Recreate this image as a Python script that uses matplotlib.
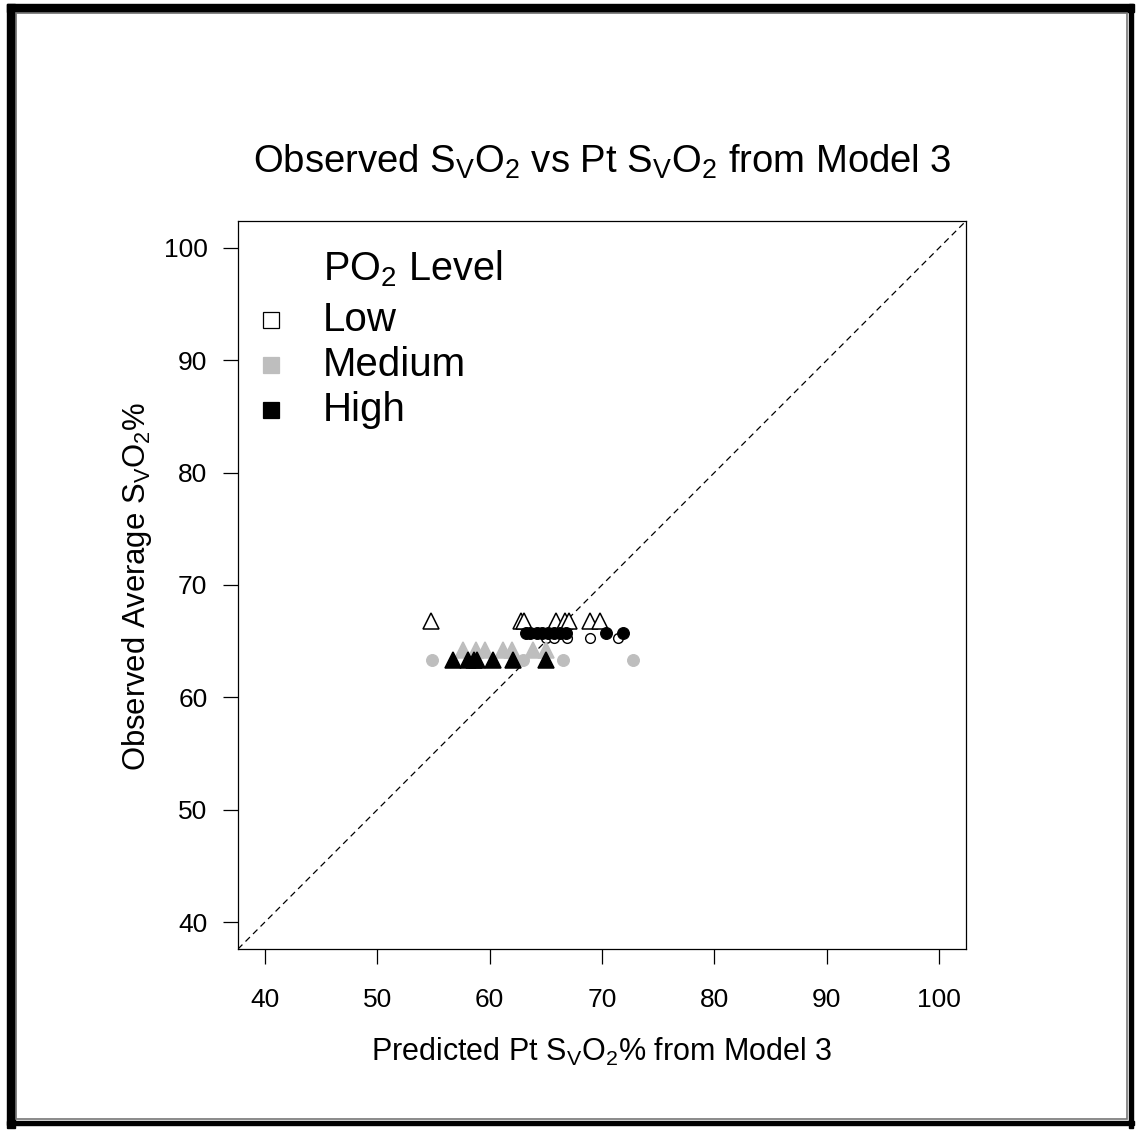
import matplotlib
matplotlib.use("Agg")
import matplotlib.pyplot as plt
from matplotlib.patches import Rectangle

plt.rcParams['font.family'] = ['Liberation Sans', 'DejaVu Sans']
plt.rcParams['mathtext.fontset'] = 'custom'
plt.rcParams['mathtext.rm'] = 'Liberation Sans'
plt.rcParams['mathtext.it'] = 'Liberation Sans'
plt.rcParams['mathtext.default'] = 'regular'

# data (predicted x, observed y)
low_tri_x = [54.8, 62.8, 63.1, 65.9, 66.7, 67.1, 68.9, 69.8]
low_tri_y = [66.8, 66.8, 66.8, 66.8, 66.8, 66.8, 66.8, 66.8]
low_circ_x = [65.0, 65.7, 66.9, 68.9, 71.4]
low_circ_y = [65.3, 65.3, 65.3, 65.3, 65.3]
med_tri_x = [57.6, 58.8, 59.6, 61.2, 62.0, 63.9, 65.0]
med_tri_y = [64.2, 64.2, 64.2, 64.2, 64.2, 64.2, 64.2]
med_circ_x = [54.9, 63.0, 66.5, 72.8]
med_circ_y = [63.3, 63.3, 63.3, 63.3]
high_tri_x = [56.7, 58.1, 58.6, 58.9, 60.3, 62.1, 65.0]
high_tri_y = [63.3, 63.3, 63.3, 63.3, 63.3, 63.3, 63.3]
high_circ_x = [63.2, 63.6, 64.2, 64.7, 65.2, 65.7, 66.3, 66.8, 70.4, 71.9]
high_circ_y = [65.7, 65.7, 65.7, 65.7, 65.7, 65.7, 65.7, 65.7, 65.7, 65.7]

levels = ['Low', 'Medium', 'High']
ticks = [40, 50, 60, 70, 80, 90, 100]
gray = '#BEBEBE'

W, H = 1137, 1130
fig = plt.figure(figsize=(W / 100, H / 100), dpi=100)
ax = fig.add_axes([238 / W, 1 - 949 / H, 728 / W, 728 / H])

lim = (37.6, 102.4)
ax.plot(lim, lim, color='black', ls=(0, (5, 3.5)), lw=0.9)

tri = dict(marker='^', ms=11.5, ls='none', mew=1.1)
circ = dict(marker='o', ms=7, ls='none', mew=1.0)
dot = dict(marker='o', ms=8.5, ls='none', mew=0.8)
ax.plot(low_tri_x, low_tri_y, mfc='white', mec='black', **tri)
ax.plot(low_circ_x, low_circ_y, mfc='white', mec='black', **circ)
ax.plot(med_tri_x, med_tri_y, mfc=gray, mec=gray, **tri)
ax.plot(med_circ_x, med_circ_y, mfc=gray, mec=gray, **dot)
ax.plot(high_tri_x, high_tri_y, mfc='black', mec='black', **tri)
ax.plot(high_circ_x, high_circ_y, mfc='black', mec='black', **dot)

ax.set_xlim(lim)
ax.set_ylim(lim)
ax.set_xticks(ticks)
ax.set_yticks(ticks)
for s in ax.spines.values():
    s.set_linewidth(0.9)
ax.tick_params(axis='x', length=11, width=0.9, pad=17, labelsize=19)
ax.tick_params(axis='y', length=11, width=0.9, pad=11, labelsize=19)

# legend (R-style, no frame)
ax.text(0.117, 0.934, 'PO$_2$ Level', transform=ax.transAxes, fontsize=28.5,
        va='center', ha='left')
leg_y = [0.864, 0.802, 0.741]
leg_fc = ['white', gray, 'black']
leg_ec = ['black', gray, 'black']
for lab, yy, fc, ec in zip(levels, leg_y, leg_fc, leg_ec):
    ax.plot([0.045], [yy], marker='s', ms=11, mfc=fc, mec=ec, mew=0.9,
            transform=ax.transAxes, clip_on=False)
    ax.text(0.117, yy, lab, transform=ax.transAxes, fontsize=29,
            va='center', ha='left')

fig.text(602 / W, 1 - 162 / H,
         'Observed S$_V$O$_2$ vs Pt S$_V$O$_2$ from Model 3',
         ha='center', va='center', fontsize=27.5)
fig.text(602 / W, 1 - 1052 / H, 'Predicted Pt S$_V$O$_2$% from Model 3',
         ha='center', va='center', fontsize=22)
fig.text(137 / W, 1 - 586 / H, 'Observed Average S$_V$O$_2$%',
         ha='center', va='center', fontsize=22.3, rotation=90)

# outer frame
bg = fig.add_axes([0, 0, 1, 1], zorder=-1)
bg.set_xlim(0, W)
bg.set_ylim(H, 0)
bg.axis('off')
bg.add_patch(Rectangle((7, 4), 8, 1124, color='black'))
bg.add_patch(Rectangle((7, 4), 1127, 8, color='black'))
bg.add_patch(Rectangle((1129, 4), 4, 1124, color='black'))
bg.add_patch(Rectangle((7, 1121), 1127, 4, color='black'))
bg.add_patch(Rectangle((16, 13), 1111, 1106, fill=False, ec='#777777', lw=1.2))

fig.savefig('out.png', dpi=100)
